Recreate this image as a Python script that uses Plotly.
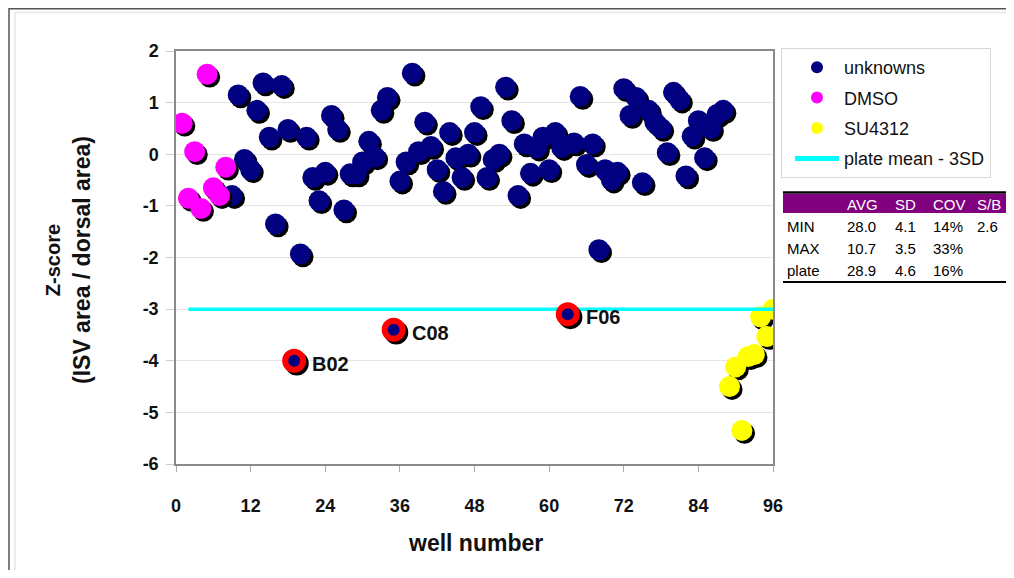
import plotly.graph_objects as go

# ---------------- data ----------------
dmso_wells = [1, 2, 3, 4, 5, 6, 7, 8]
dmso_z = [0.6, -0.85, 0.05, -1.05, 1.55, -0.65, -0.8, -0.25]

unk_wells = [9, 10, 11, 12, 13, 14, 15, 16, 17, 18, 20, 21, 22, 23, 24, 25, 26, 27, 28, 29,
             30, 31, 32, 33, 34, 36, 37, 38, 39, 40, 41, 42, 43, 44, 45, 46, 47, 48, 49, 50,
             51, 52, 53, 54, 55, 56, 57, 58, 59, 60, 61, 62, 64, 65, 66, 67, 68, 69, 70, 71,
             72, 73, 74, 75, 76, 77, 78, 79, 80, 81, 82, 83, 84, 85, 86, 87, 88]
unk_z = [-0.8, 1.15, -0.1, -0.3, 0.85, 1.38, 0.33, -1.35, 1.33, 0.48, -1.93, 0.33, -0.45, -0.9, -0.35, 0.75, 0.48, -1.08, -0.38, -0.38,
         -0.15, 0.25, -0.05, 0.85, 1.1, -0.52, -0.15, 1.57, 0.05, 0.62, 0.15, -0.3, -0.72, 0.42, -0.07, -0.45, 0.0, 0.42, 0.92, -0.45,
         -0.1, 0.0, 1.3, 0.65, -0.8, 0.2, -0.37, 0.12, 0.33, -0.3, 0.42, 0.13, 0.22, 1.12, -0.2, 0.2, -1.85, -0.3, -0.5, -0.35,
         1.27, 0.75, 1.1, -0.55, 0.85, 0.62, 0.5, 0.03, 1.2, 1.05, -0.42, 0.35, 0.65, -0.07, 0.5, 0.77, 0.85]

hit_wells = [19, 35, 63]
hit_z = [-4.0, -3.4, -3.1]
hit_labels = ["B02", "C08", "F06"]

su_wells = [89, 90, 91, 92, 93, 94, 95, 96]
su_z = [-4.5, -4.12, -5.35, -3.92, -3.88, -3.15, -3.53, -3.0]

cut_x = [2, 96]
cut_z = [-3, -3]

x_ticks = [0, 12, 24, 36, 48, 60, 72, 84, 96]
y_ticks = [2, 1, 0, -1, -2, -3, -4, -5, -6]
y_tick_text = ["2", "1", "0", "-1", "-2", "-3", "-4", "-5", "-6"]

table_header = ["", "AVG", "SD", "COV", "S/B"]
table_rows = [["MIN", "28.0", "4.1", "14%", "2.6"],
              ["MAX", "10.7", "3.5", "33%", ""],
              ["plate", "28.9", "4.6", "16%", ""]]

# ---------------- layout helpers (screen pixel -> paper) ----------------
OFF = 8                      # page body margin
W, H = 1014 - OFF, 578 - 2 * OFF
L, R, T, B = 176, 773, 51, 464   # plot area in screen pixels
def px(x):
    return (x - L) / (R - L)
def py(y):
    return (B - y) / (B - T)

FONT = "Liberation Sans, Arial, sans-serif"
SH_DX, SH_DY = 0.42, -0.055  # drop shadow offset (data units)

fig = go.Figure()

def add_series(xs, ys, color, name, size=21, legend=True, line=None):
    fig.add_trace(go.Scatter(x=[v + SH_DX for v in xs], y=[v + SH_DY for v in ys], mode="markers",
                             marker=dict(color="black", size=size + (line["width"] if line else 0)),
                             showlegend=False, hoverinfo="skip"))
    mk = dict(color=color, size=size)
    if line:
        mk["line"] = line
    fig.add_trace(go.Scatter(x=xs, y=ys, mode="markers", marker=mk, name=name, showlegend=legend,
                             legendgroup=name))

add_series(unk_wells, unk_z, "#000080", "unknowns")
add_series(dmso_wells, dmso_z, "#FF00FF", "DMSO")
add_series(su_wells, su_z, "#FFFF00", "SU4312")
fig.add_trace(go.Scatter(x=cut_x, y=cut_z, mode="lines", line=dict(color="#00FFFF", width=3.5),
                         name="plate mean - 3SD", legendgroup="cut"))
add_series(hit_wells, hit_z, "#000080", "hits", size=18, legend=False,
           line=dict(color="#FF0000", width=6))

shapes = []
annotations = []

# hit labels
for xw, zv, lab in zip(hit_wells, hit_z, hit_labels):
    annotations.append(dict(x=xw, y=zv, xref="x", yref="y", text=lab, showarrow=False,
                            xanchor="left", yanchor="middle", xshift=16, yshift=-3,
                            font=dict(family=FONT, size=20, color="#111", weight="bold")))

# outer frames
shapes.append(dict(type="rect", xref="paper", yref="paper", x0=px(9), x1=px(1040), y0=py(8.7), y1=py(620),
                   line=dict(color="#555", width=1.5), layer="below"))
shapes.append(dict(type="rect", xref="paper", yref="paper", x0=px(15), x1=px(1040), y0=py(12.5), y1=py(620),
                   line=dict(color="#e6e6e6", width=1.5), layer="below"))

# stats table
tx0, tx1 = 783, 1009
shapes.append(dict(type="rect", xref="paper", yref="paper", x0=px(tx0), x1=px(tx1), y0=py(194), y1=py(213),
                   fillcolor="#800080", line=dict(width=0)))
shapes.append(dict(type="line", xref="paper", yref="paper", x0=px(tx0), x1=px(tx1), y0=py(192.5), y1=py(192.5),
                   line=dict(color="black", width=2.5)))
shapes.append(dict(type="line", xref="paper", yref="paper", x0=px(tx0), x1=px(tx1), y0=py(282), y1=py(282),
                   line=dict(color="black", width=2)))
col_x = [785, 845, 893, 931, 975]
row_y = [226, 248, 270]
for j, h in enumerate(table_header):
    if h:
        annotations.append(dict(xref="paper", yref="paper", x=px(col_x[j]), y=py(204), text=h, showarrow=False,
                                xanchor="left", yanchor="middle", font=dict(family=FONT, size=15, color="white")))
for i, row in enumerate(table_rows):
    for j, v in enumerate(row):
        if v:
            annotations.append(dict(xref="paper", yref="paper", x=px(col_x[j]), y=py(row_y[i]), text=v,
                                    showarrow=False, xanchor="left", yanchor="middle",
                                    font=dict(family=FONT, size=15, color="black")))

# axis titles
annotations.append(dict(xref="paper", yref="paper", x=px(69), y=py(260),
                        text="<span style='font-size:20px'>Z-score</span><br>(ISV area / dorsal area)",
                        showarrow=False, textangle=-90, xanchor="center", yanchor="middle",
                        font=dict(family=FONT, size=23, color="#111", weight="bold")))
annotations.append(dict(xref="paper", yref="paper", x=px(475), y=py(543), text="well number",
                        showarrow=False, xanchor="center", yanchor="middle",
                        font=dict(family=FONT, size=23, color="#111", weight="bold")))

fig.update_layout(
    width=W, height=H,
    margin=dict(l=L - OFF, r=W - (R - OFF), t=T - OFF, b=H - (B - OFF)),
    paper_bgcolor="white", plot_bgcolor="white",
    font=dict(family=FONT, color="#111"),
    showlegend=True,
    legend=dict(x=px(781), y=py(48), xanchor="left", yanchor="top", bordercolor="#d8d8d8", borderwidth=1,
                font=dict(family=FONT, size=18, color="#111"), itemsizing="constant", bgcolor="white",
                tracegroupgap=4, itemwidth=44, indentation=8, entrywidth=190, entrywidthmode="pixels"),
    shapes=shapes, annotations=annotations,
)
fig.update_xaxes(range=[0, 96], tickvals=x_ticks, showgrid=False, zeroline=False, showline=True,
                 linecolor="#8a8a8a", linewidth=1.5, mirror=True, ticks="outside", ticklen=6, tickcolor="#aaa",
                 ticklabelstandoff=19, tickfont=dict(family=FONT, size=18, color="#111", weight="bold"))
fig.update_yaxes(range=[-6, 2], tickvals=y_ticks, ticktext=y_tick_text, showgrid=True, gridcolor="#e4e4e4",
                 zeroline=False, showline=True, linecolor="#8a8a8a", linewidth=1.5, mirror=True,
                 ticks="outside", ticklen=8, tickcolor="#ccc", ticklabelstandoff=4,
                 tickfont=dict(family=FONT, size=18, color="#111", weight="bold"))

fig.write_html("out.html")
